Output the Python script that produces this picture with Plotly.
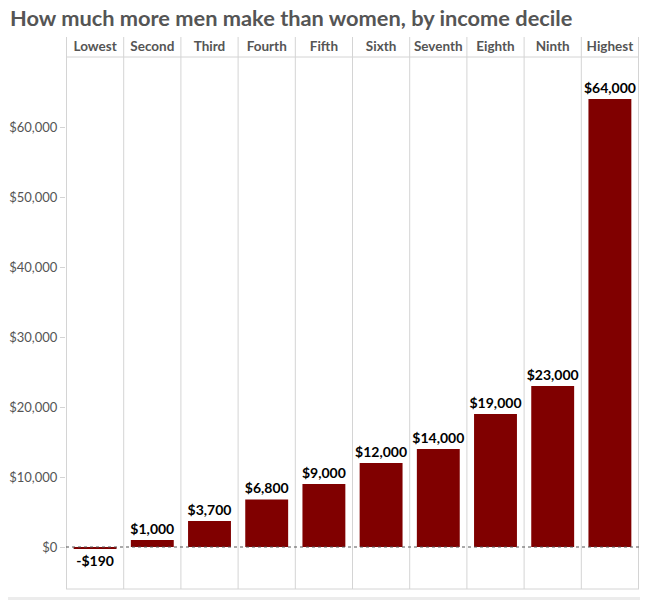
import plotly.graph_objects as go

deciles = ['Lowest', 'Second', 'Third', 'Fourth', 'Fifth',
           'Sixth', 'Seventh', 'Eighth', 'Ninth', 'Highest']
gap = [-190, 1000, 3700, 6800, 9000, 12000, 14000, 19000, 23000, 64000]
y_ticks = [0, 10000, 20000, 30000, 40000, 50000, 60000]

labels = [('-$' if v < 0 else '$') + f'{abs(v):,}' for v in gap]
tick_text = [f'${v:,}' for v in y_ticks]

grid = '#d4d4d4'
font = 'Lato'

fig = go.Figure()

fig.add_trace(go.Bar(
    x=deciles, y=gap,
    width=0.75,
    marker=dict(color='#800000', line=dict(width=0)),
    text=labels, textposition='outside', cliponaxis=False,
    constraintext='none',
    textfont=dict(family=font, size=14, color='#000000', weight='bold'),
))

# header band + column separators
head = 20 / 532
shapes = []
for i in range(len(deciles) + 1):
    shapes.append(dict(type='line', xref='x', yref='paper',
                       x0=i - 0.5, x1=i - 0.5, y0=0, y1=1 + head,
                       line=dict(color=grid, width=1), layer='below'))
shapes.append(dict(type='line', xref='paper', yref='paper', x0=0, x1=1, y0=1, y1=1,
                   line=dict(color=grid, width=1)))
shapes.append(dict(type='line', xref='paper', yref='paper', x0=0, x1=1, y0=0, y1=0,
                   line=dict(color=grid, width=1)))
# dotted zero line
shapes.append(dict(type='line', xref='paper', yref='y', x0=0, x1=1, y0=0, y1=0,
                   line=dict(color='#555555', width=1, dash='dot'), layer='above'))
# light band at the very bottom
shapes.append(dict(type='rect', xref='paper', yref='paper', x0=-0.2, x1=1.1,
                   y0=-11 / 532, y1=-8 / 532, fillcolor='#ececec', line=dict(width=0)))

# page body has an 8px margin, so the figure is sized to fit the window
fig.update_layout(
    width=640, height=592,
    margin=dict(l=58, r=9, t=49, b=11),
    paper_bgcolor='white', plot_bgcolor='white',
    showlegend=False,
    bargap=0.25,
    title=dict(text='<b>How much more men make than women, by income decile</b>',
               x=2 / 640, xref='container', xanchor='left',
               y=1 - 3 / 592, yref='container', yanchor='top',
               font=dict(family=font, size=21.8, color='#555555')),
    font=dict(family=font),
    shapes=shapes,
)

fig.update_xaxes(
    side='top', showgrid=False, showline=False, ticks='', automargin=False,
    tickfont=dict(family=font, size=13.5, color='#555555', weight='bold'),
    ticklabelstandoff=2,
)
fig.update_yaxes(
    range=[-6000, 70000], showgrid=False, zeroline=False, automargin=False,
    tickvals=y_ticks, ticktext=tick_text,
    ticks='outside', ticklen=5, tickcolor=grid,
    tickfont=dict(family=font, size=13, color='#555555'),
    ticklabelstandoff=0,
    showline=False,
)

fig.write_html('out.html')
